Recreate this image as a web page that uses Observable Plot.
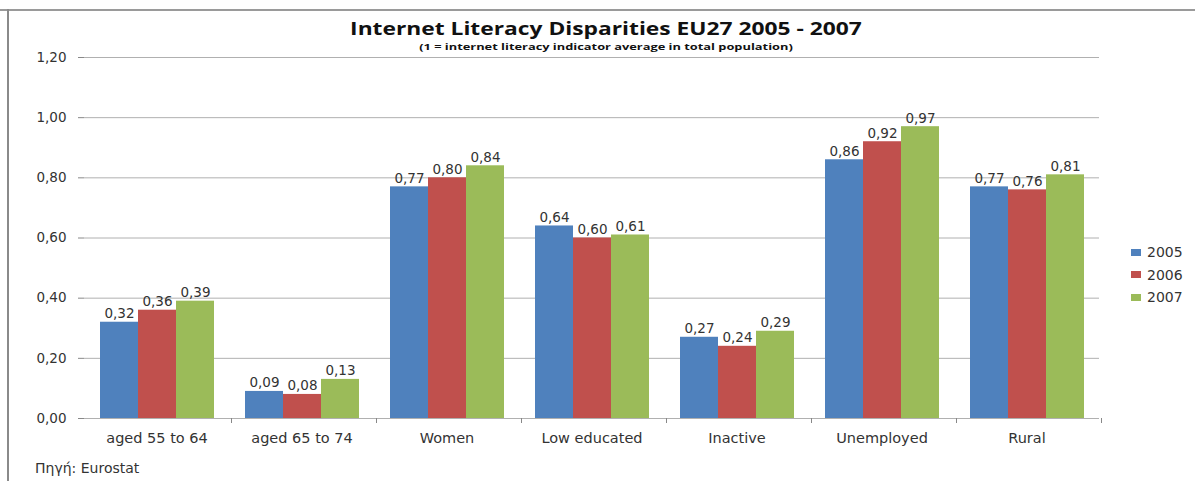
<!DOCTYPE html>
<html><head><meta charset="utf-8">
<script src="https://cdn.jsdelivr.net/npm/d3@7"></script>
<script src="https://cdn.jsdelivr.net/npm/@observablehq/plot@0.6"></script>
<style>
body{margin:0;background:#fff;}
#wrap{position:relative;width:1195px;height:481px;overflow:hidden;font-family:"DejaVu Sans",sans-serif;background:#fff;}
#topline{position:absolute;left:0;top:9px;width:1195px;height:2px;background:#9a9a9a;}
#leftline{position:absolute;left:7px;top:9px;width:2px;height:480px;background:#8a8a8a;}
#title{position:absolute;left:306px;width:600px;top:20px;text-align:center;font-family:"Open Sans",Lato,sans-serif;font-weight:bold;font-size:17px;color:#111;line-height:18px;transform:scaleX(1.34);transform-origin:50% 50%;}
#subtitle{position:absolute;left:306px;width:600px;top:41px;text-align:center;font-family:"Open Sans",Lato,sans-serif;font-weight:bold;font-size:9.5px;color:#111;line-height:11px;transform:scaleX(1.35);transform-origin:50% 50%;}
#chart{position:absolute;left:0;top:40px;}
#legend{position:absolute;left:1131px;top:241px;font-family:"DejaVu Sans",sans-serif;font-size:14px;color:#333;}
.li{height:22.5px;display:flex;align-items:center;}
.sw{width:10px;height:7px;margin-right:6px;}
#caption{position:absolute;left:35px;top:460px;font-size:14px;color:#333;font-family:"DejaVu Sans",sans-serif;}
</style></head>
<body>
<div id="wrap">
  <div id="topline"></div>
  <div id="leftline"></div>
  <div id="title">Internet Literacy Disparities EU27 2005 - 2007</div>
  <div id="subtitle">(1 = internet literacy indicator average in total population)</div>
  <div id="chart"></div>
  <div id="legend"></div>
  <div id="caption">Πηγή: Eurostat</div>
</div>
<script>
const categories = ["aged 55 to 64","aged 65 to 74","Women","Low educated","Inactive","Unemployed","Rural"];
const years = ["2005","2006","2007"];
const v2005 = [0.32,0.09,0.77,0.64,0.27,0.86,0.77];
const v2006 = [0.36,0.08,0.80,0.60,0.24,0.92,0.76];
const v2007 = [0.39,0.13,0.84,0.61,0.29,0.97,0.81];
const yTicks = [0,0.2,0.4,0.6,0.8,1.0,1.2];
const colors = ["#4F81BD","#C0504D","#9BBB59"];

const series = [v2005, v2006, v2007];
const rows = categories.flatMap((c, i) => years.map((yr, j) => ({category: c, year: yr, value: series[j][i]})));
const fmt = d => d.toFixed(2).replace(".", ",");

function boundaryTicks(index, scales, values, dims) {
  const g = d3.create("svg:g").attr("stroke", "#888").attr("stroke-width", 1);
  const fx = scales.fx;
  if (!fx || !fx.bandwidth) return g.node();
  const y0 = scales.y(0);
  const xs = categories.map(c => fx(c));
  xs.push(fx(categories[categories.length - 1]) + fx.bandwidth());
  xs.slice(1).forEach(x => {
    g.append("line").attr("x1", Math.round(x) + 0.5).attr("x2", Math.round(x) + 0.5).attr("y1", y0).attr("y2", y0 + 5);
  });
  return g.node();
}

const chart = Plot.plot({
  width: 1195, height: 410,
  marginLeft: 82, marginRight: 95, marginTop: 17, marginBottom: 32,
  style: {fontFamily: "DejaVu Sans", fontSize: "13px", color: "#333", background: "transparent"},
  fx: {domain: categories, padding: 0, label: null, axis: null},
  x: {domain: years, paddingInner: 0, paddingOuter: 0.364, axis: null},
  y: {domain: [0, 1.2], axis: null},
  color: {domain: years, range: colors},
  marks: [
    Plot.ruleY(yTicks, {stroke: "#b0b0b0"}),
    Plot.barY(rows, {fx: "category", x: "year", y: "value", fill: "year"}),
    Plot.text(rows, {fx: "category", x: "year", y: "value", text: d => fmt(d.value), dy: -4, lineAnchor: "bottom", fill: "#333", fontSize: 13.5}),
    Plot.axisY(yTicks, {anchor: "left", tickSize: 6, tickPadding: 12, tickFormat: fmt, stroke: "#888", line: true, label: null, fontSize: 13.5, fill: "#333"}),
    Plot.axisFx({anchor: "bottom", tickSize: 0, tickPadding: 14, label: null, fontSize: 14.5, fill: "#333"}),
    boundaryTicks
  ]
});
document.getElementById("chart").appendChild(chart);

const legend = document.getElementById("legend");
years.forEach((yr, i) => {
  const d = document.createElement("div");
  d.className = "li";
  d.innerHTML = `<span class="sw" style="background:${colors[i]}"></span><span>${yr}</span>`;
  legend.appendChild(d);
});
</script>
</body></html>
